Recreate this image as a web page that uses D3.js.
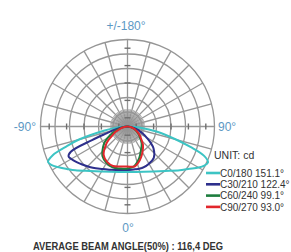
<!DOCTYPE html>
<html lang="en">
<head>
<meta charset="UTF-8">
<title>Polar luminous intensity</title>
<script src="https://d3js.org/d3.v7.min.js"></script>
<style>
  body { margin: 0; background: #fff; }
  svg { display: block; font-family: "Liberation Sans", Arial, sans-serif; }
  .grid { fill: none; stroke: #969696; stroke-width: 1.3; }
  .tick { stroke: #6f6f6f; stroke-width: 1.4; }
  .axis-label { fill: #5d98c4; font-size: 12px; }
</style>
</head>
<body>
<div id="chart"></div>
<script>
// gamma angles (deg from nadir) shared by every C-plane
var gamma = [0, 10, 20, 30, 40, 50, 55, 60, 63, 66, 69, 72, 75, 80, 85, 90];

// intensities in cd, left half (C0/C30/C60/C90) and right half (C180/C210/C240/C270)
var c0   = [157, 159, 166, 179, 200, 235, 255, 279, 293, 300, 276, 221, 173, 83, 35, 7];
var c180 = [157, 159, 166, 179, 200, 235, 255, 283, 297, 304, 283, 228, 173, 104, 41, 7];
var c30  = [150, 152, 159, 169, 186, 204, 214, 224, 228, 214, 131, 76, 52, 24, 10, 0];
var c210 = [150, 150, 152, 148, 141, 117, 97, 76, 66, 55, 45, 38, 31, 17, 7, 0];
var c60  = [145, 147, 150, 145, 134, 110, 97, 79, 69, 59, 45, 38, 31, 17, 7, 0];
var c240 = [145, 138, 117, 93, 76, 55, 47, 38, 34, 29, 26, 21, 17, 10, 5, 0];
var c90  = [138, 140, 145, 141, 128, 97, 79, 59, 52, 45, 34, 28, 24, 14, 7, 0];
var c270 = [138, 140, 124, 103, 83, 59, 50, 41, 36, 31, 28, 22, 17, 10, 5, 0];

var seriesNames = ["C0/180 151.1°", "C30/210 122.4°", "C60/240 99.1°", "C90/270 93.0°"];
var seriesColors = ["#3cc4c4", "#2d2f8c", "#1d7d3e", "#e2262c"];
var seriesData = [[c0, c180], [c30, c210], [c60, c240], [c90, c270]];

var ringValues = [50, 100, 150, 200, 250, 300];
var tickValues = [30, 90, 150, 210, 270];
var axisLabels = ["+/-180°", "-90°", "90°", "0°"];

var width = 291, height = 252;
var cx = 127.5, cy = 126.5;

var svg = d3.select("#chart").append("svg")
    .attr("width", width)
    .attr("height", height);

var r = d3.scaleLinear().domain([0, 300]).range([0, 87]);

var g = svg.append("g").attr("transform", "translate(" + cx + "," + cy + ")");

// rings
g.selectAll(".ring")
    .data(ringValues)
    .enter().append("circle")
    .attr("class", "grid")
    .attr("r", d => r(d));

// spokes every 15 deg, plus dense 5 deg spokes near the centre
var spokes = d3.range(0, 360, 15);
g.selectAll(".spoke")
    .data(spokes)
    .enter().append("line")
    .attr("class", "grid")
    .attr("x2", d => r(300) * Math.sin(d * Math.PI / 180))
    .attr("y2", d => -r(300) * Math.cos(d * Math.PI / 180));

g.selectAll(".spoke-in")
    .data(d3.range(0, 360, 5).filter(d => d % 15 !== 0))
    .enter().append("line")
    .attr("class", "grid")
    .attr("stroke-width", 0.7)
    .attr("stroke-opacity", 0.8)
    .attr("x2", d => r(60) * Math.sin(d * Math.PI / 180))
    .attr("y2", d => -r(60) * Math.cos(d * Math.PI / 180));

// tick dashes along the two axes
[0, 90, 180, 270].forEach(function (a) {
    var s = Math.sin(a * Math.PI / 180), c = -Math.cos(a * Math.PI / 180);
    g.selectAll(".tick-" + a)
        .data(tickValues)
        .enter().append("line")
        .attr("class", "tick")
        .attr("x1", d => r(d) * s - 3 * c)
        .attr("y1", d => r(d) * c + 3 * s)
        .attr("x2", d => r(d) * s + 3 * c)
        .attr("y2", d => r(d) * c - 3 * s);
});

// intensity curves: left half angle = PI + gamma, right half = PI - gamma
var radial = d3.lineRadial()
    .angle(d => d[0])
    .radius(d => r(d[1]))
    .curve(d3.curveCatmullRom.alpha(0.5));

seriesData.forEach(function (pair, i) {
    var pts = [];
    for (var k = gamma.length - 1; k >= 0; k--) {
        pts.push([Math.PI + gamma[k] * Math.PI / 180, pair[0][k]]);
    }
    for (var k = 1; k < gamma.length; k++) {
        pts.push([Math.PI - gamma[k] * Math.PI / 180, pair[1][k]]);
    }
    g.append("path")
        .attr("d", radial(pts))
        .attr("fill", "none")
        .attr("stroke", seriesColors[i])
        .attr("stroke-width", 2);
});

// axis labels
svg.append("text").attr("class", "axis-label")
    .attr("x", 126).attr("y", 29.5).attr("text-anchor", "middle").text(axisLabels[0]);
svg.append("text").attr("class", "axis-label")
    .attr("x", 36).attr("y", 131).attr("text-anchor", "end").text(axisLabels[1]);
svg.append("text").attr("class", "axis-label")
    .attr("x", 218).attr("y", 131).text(axisLabels[2]);
svg.append("text").attr("class", "axis-label")
    .attr("x", 128).attr("y", 232).attr("text-anchor", "middle").text(axisLabels[3]);

svg.append("text")
    .attr("x", 214).attr("y", 159)
    .attr("fill", "#333")
    .style("font-size", "10.5px")
    .text("UNIT: cd");

// legend
var legend = svg.selectAll(".legend")
    .data(seriesNames)
    .enter().append("g")
    .attr("transform", (d, i) => "translate(0," + (173 + i * 11.3) + ")");

legend.append("line")
    .attr("x1", 206).attr("x2", 220)
    .attr("stroke", (d, i) => seriesColors[i])
    .attr("stroke-width", 2.6);

legend.append("text")
    .attr("x", 220).attr("y", 3.6)
    .attr("fill", "#333")
    .style("font-size", "10px")
    .text(d => d);

svg.append("text")
    .attr("x", 33).attr("y", 250)
    .attr("fill", "#333")
    .attr("textLength", 190)
    .attr("lengthAdjust", "spacingAndGlyphs")
    .style("font-size", "11px")
    .style("font-weight", "bold")
    .text("AVERAGE BEAM ANGLE(50%) : 116,4 DEG");
</script>
</body>
</html>
